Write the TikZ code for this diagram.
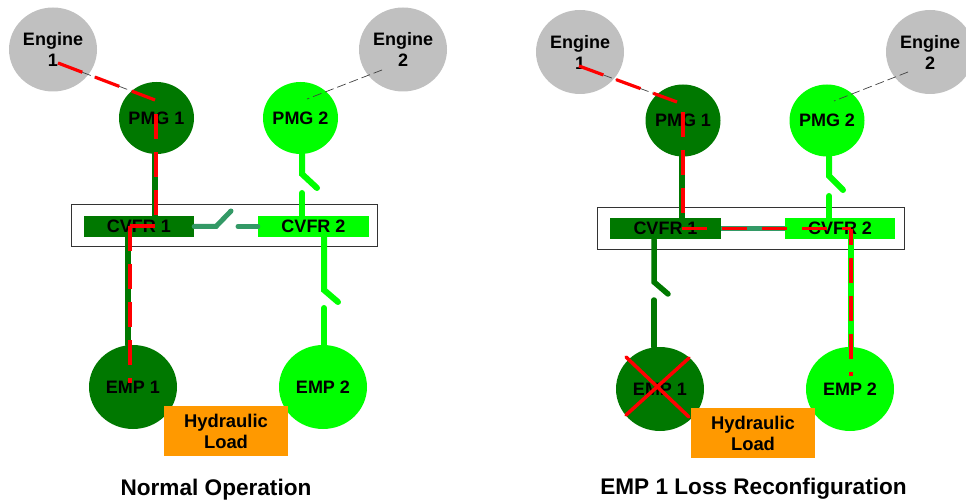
\documentclass[tikz,border=0pt]{standalone}
\usepackage{fontspec}
\setmainfont{Liberation Sans}
\usetikzlibrary{shapes.geometric}
\definecolor{darkgrn}{RGB}{0,120,0}
\definecolor{limegrn}{RGB}{0,255,0}
\definecolor{tiegrn}{RGB}{51,153,102}
\definecolor{enggray}{RGB}{192,192,192}
\definecolor{loadorange}{RGB}{255,153,0}

\begin{document}
\begin{tikzpicture}
[
x=1pt, y=-1pt,
every node/.style={inner sep=0pt, align=center, font=\bfseries\fontsize{18}{21}\selectfont},
unit/.style={ellipse, inner sep=-3pt, minimum width=75pt, minimum height=72pt},
engine/.style={ellipse, fill=enggray, minimum width=88pt, minimum height=84pt},
pump/.style={ellipse, minimum width=88pt, minimum height=84pt},
cvfr/.style={rectangle, minimum width=110pt, minimum height=21pt},
load/.style={rectangle, fill=loadorange, minimum width=124pt, minimum height=50pt, font=\bfseries\fontsize{18.4}{21}\selectfont},
caption/.style={font=\bfseries\fontsize{22.6}{26}\selectfont},
busA/.style={darkgrn, line width=5.5pt, line cap=round},
busB/.style={limegrn, line width=6pt, line cap=round},
tie/.style={tiegrn, line width=5pt, line cap=round},
shaft/.style={black!75, line width=0.7pt, dash pattern=on 9pt off 4pt},
flow/.style={red, line width=3.2pt, dash pattern=on 25pt off 13pt},
flowwide/.style={red, line width=3.2pt, dash pattern=on 25pt off 15pt},
flowshaft/.style={red, line width=3.2pt, dash pattern=on 26pt off 13.5pt},
cross/.style={red, line width=3.5pt, line cap=round}
]

\clip (0,0) rectangle (966,502);

\draw[black!80, line width=0.9pt] (71,204) rectangle (377,246.5);
\draw[black!80, line width=0.9pt] (597,207) rectangle (904,249);

\node[engine] (engA) at (53,49.5) {Engine\\1};
\node[engine] (engB) at (403,49.5) {Engine\\2};
\node[unit, fill=darkgrn] (pmgA) at (156.5,118) {PMG 1};
\node[unit, fill=limegrn] (pmgB) at (300.5,118) {PMG 2};
\node[cvfr, fill=darkgrn] (cvfrA) at (139,226.5) {CVFR 1};
\node[cvfr, fill=limegrn, minimum width=111pt] (cvfrB) at (313.5,226.5) {CVFR 2};
\node[pump, fill=darkgrn] (empA) at (133,387) {EMP 1};
\node[pump, fill=limegrn] (empB) at (323,387) {EMP 2};
\node[load] (loadL) at (226,431) {Hydraulic\\Load};
\node[caption] (capL) at (216,489.5) {Normal Operation};

\coordinate (shaftA) at (58,63);
\coordinate (shaftAend) at (155,100);
\coordinate (shaftB) at (382,70);
\coordinate (shaftBend) at (307,99);
\coordinate (busAtop) at (155,138);
\coordinate (busAlow) at (128,300);
\coordinate (swB) at (302,174);
\coordinate (swBtip) at (317,188);
\coordinate (swBend) at (302,193);
\coordinate (swC) at (324,290);
\coordinate (swCtip) at (338,302);
\coordinate (swCend) at (324,308);
\coordinate (tieA) at (216,226.5);
\coordinate (tieAtip) at (231,211);
\coordinate (tieAend) at (238,226.5);
\coordinate (flowA) at (156,114);
\coordinate (flowAend) at (156,216);
\coordinate (flowB) at (155,226);
\coordinate (flowC) at (130,226);
\coordinate (flowCend) at (130,383);

\draw[busA] (busAtop |- pmgA.south) -- (busAtop |- cvfrA.north);
\draw[busA] (busAlow |- cvfrA.south) -- (busAlow |- empA.north);
\draw[busB] (swB |- pmgB.south) -- (swB) -- (swBtip);
\draw[busB] (swBend) -- (swBend |- cvfrB.north);
\draw[busB] (swC |- cvfrB.south) -- (swC) -- (swCtip);
\draw[busB] (swCend) -- (swCend |- empB.north);
\draw[tie] (tieA -| cvfrA.east) -- (tieA) -- (tieAtip);
\draw[tie] (tieAend) -- (tieAend -| cvfrB.west);
\draw[shaft] (shaftA) -- (shaftAend);
\draw[shaft] (shaftB) -- (shaftBend);
\draw[flowshaft] (shaftA) -- (shaftAend);
\draw[flow] (flowA) -- (flowAend);
\draw[flow] (flowB) -- (flowC);
\draw[flow] (flowC) -- (flowCend);

\node[engine] (engC) at (580,52) {Engine\\1};
\node[engine] (engD) at (930,52) {Engine\\2};
\node[unit, fill=darkgrn] (pmgC) at (683,120.5) {PMG 1};
\node[unit, fill=limegrn] (pmgD) at (827,120.5) {PMG 2};
\node[cvfr, fill=darkgrn, minimum width=111pt] (cvfrC) at (665.5,228.7) {CVFR 1};
\node[cvfr, fill=limegrn] (cvfrD) at (840,228.7) {CVFR 2};
\node[pump, fill=darkgrn] (empC) at (660,389) {EMP 1};
\node[pump, fill=limegrn] (empD) at (850,389) {EMP 2};
\node[load] (loadR) at (753,433) {Hydraulic\\Load};
\node[caption] (capR) at (753.5,488.5) {EMP 1 Loss Reconfiguration};

\coordinate (shaftC) at (579,66);
\coordinate (shaftCend) at (677,102);
\coordinate (shaftD) at (908,72);
\coordinate (shaftDend) at (834,101);
\coordinate (busCtop) at (682,138);
\coordinate (swD) at (829,176);
\coordinate (swDtip) at (843,190);
\coordinate (swDend) at (829,196);
\coordinate (swE) at (654,282);
\coordinate (swEtip) at (668,294);
\coordinate (swEend) at (654,300);
\coordinate (busDlow) at (850.7,300);
\coordinate (flowD) at (683,112);
\coordinate (flowDend) at (683,213);
\coordinate (flowE) at (682,228.7);
\coordinate (flowF) at (851,228.7);
\coordinate (flowFend) at (851,376);
\coordinate (crossA) at (626,357);
\coordinate (crossAend) at (689,417);
\coordinate (crossB) at (689,358);
\coordinate (crossBend) at (626,415);

\draw[busA] (busCtop |- pmgC.south) -- (busCtop |- cvfrC.north);
\draw[busA] (swE |- cvfrC.south) -- (swE) -- (swEtip);
\draw[busA] (swEend) -- (swEend |- empC.north);
\draw[busB] (swD |- pmgD.south) -- (swD) -- (swDtip);
\draw[busB] (swDend) -- (swDend |- cvfrD.north);
\draw[busB] (busDlow |- cvfrD.south) -- (busDlow |- empD.north);
\draw[tie, line cap=butt] (cvfrC.east) -- (cvfrD.west);
\draw[shaft] (shaftC) -- (shaftCend);
\draw[shaft] (shaftD) -- (shaftDend);
\draw[flowshaft] (shaftC) -- (shaftCend);
\draw[flow] (flowD) -- (flowDend);
\draw[flowwide] (flowE) -- (flowF);
\draw[flow, dash phase=9pt] (flowF) -- (flowFend);
\draw[cross] (crossA) -- (crossAend);
\draw[cross] (crossB) -- (crossBend);
\end{tikzpicture}
\end{document}
